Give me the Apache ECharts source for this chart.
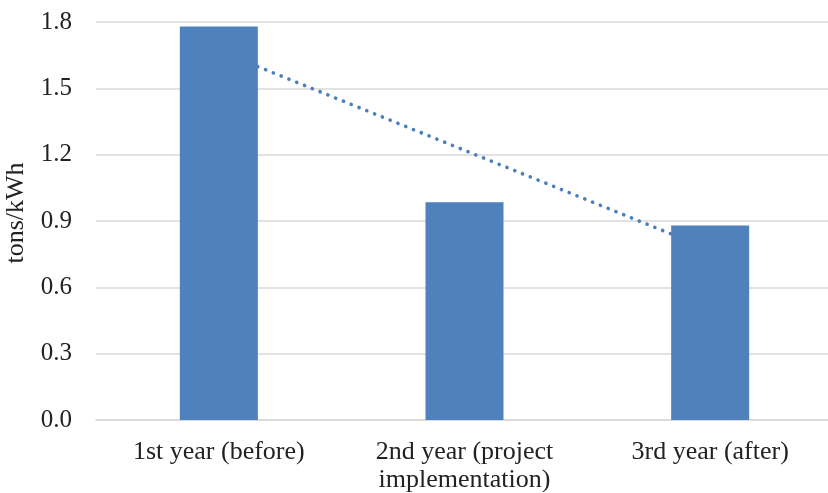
<!DOCTYPE html>
<html>
<head>
<meta charset="utf-8">
<script src="https://cdn.jsdelivr.net/npm/echarts@6/dist/echarts.min.js"></script>
<style>
html,body{margin:0;padding:0;background:#fff;}
#chart{width:828px;height:493px;}
</style>
</head>
<body>
<div id="chart"></div>
<script>
const categories = ['1st year (before)', '2nd year (project\nimplementation)', '3rd year (after)'];
const values = [1.78, 0.985, 0.88];
const trendValues = [1.67, 1.22, 0.77];
const yTicks = {min: 0, max: 1.8, interval: 0.3};
const yName = 'tons/kWh';

const chart = echarts.init(document.getElementById('chart'));
const font = 'Liberation Serif, Times New Roman, serif';
chart.setOption({
  animation: false,
  backgroundColor: '#fff',
  grid: {left: 96, right: -5, top: 22, bottom: 73, containLabel: false, outerBoundsMode: 'none'},
  xAxis: {
    type: 'category',
    data: categories,
    axisTick: {show: false},
    axisLine: {lineStyle: {color: '#d9d9d9', width: 1.5}},
    axisLabel: {color: '#222', fontFamily: font, fontSize: 26, margin: 18, lineHeight: 28, interval: 0}
  },
  yAxis: {
    type: 'value',
    min: yTicks.min, max: yTicks.max, interval: yTicks.interval,
    name: yName,
    nameLocation: 'middle',
    nameGap: 67,
    nameTextStyle: {color: '#222', fontFamily: font, fontSize: 26, padding: [0, 0, 0, 16]},
    axisLine: {show: false},
    axisTick: {show: false},
    splitLine: {lineStyle: {color: '#d9d9d9', width: 1.5}},
    axisLabel: {color: '#222', fontFamily: font, fontSize: 25, margin: 24,
      formatter: v => v.toFixed(1)}
  },
  series: [
    {
      type: 'line',
      data: trendValues,
      symbol: 'none',
      z: 1,
      lineStyle: {color: '#4a7ebb', width: 3.6, type: [0.1, 8.3], cap: 'round'}
    },
    {
      type: 'bar',
      data: values,
      barWidth: 78,
      z: 3,
      itemStyle: {color: '#4f81bd'}
    }
  ]
});
</script>
</body>
</html>
